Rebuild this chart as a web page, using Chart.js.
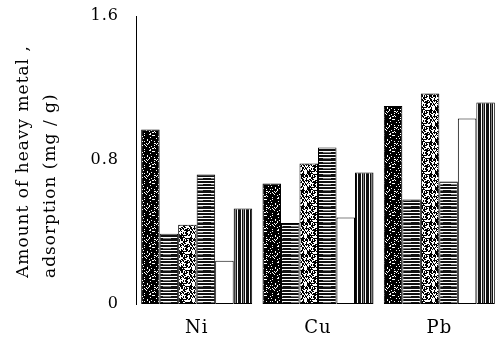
<!DOCTYPE html>
<html>
<head>
<meta charset="utf-8">
<script src="https://cdn.jsdelivr.net/npm/chart.js@4"></script>
<style>
  html, body { margin: 0; padding: 0; background: #fff; }
  #wrap { width: 500px; height: 348px; }
</style>
</head>
<body>
<div id="wrap"><canvas id="myChart"></canvas></div>
<script>
const metals = ['Ni', 'Cu', 'Pb'];
const yTicks = [0, 0.8, 1.6];
const yTitle = ['Amount of heavy metal ,', 'adsorption (mg / g)'];
// six adsorbents per metal (mg/g)
const series1 = [0.97, 0.67, 1.10];
const series2 = [0.39, 0.45, 0.58];
const series3 = [0.44, 0.78, 1.17];
const series4 = [0.72, 0.87, 0.68];
const series5 = [0.24, 0.48, 1.03];
const series6 = [0.53, 0.73, 1.12];

const serif = "'DejaVu Serif', 'Liberation Serif', serif";

/* texturas tipo impresion (solo estilo) */
let seed = 11;
const noise = () => { seed = (seed * 16807) % 2147483647; return seed / 2147483647; };

let makePattern = (kind) => {
    const c = document.createElement('canvas');
    c.width = 16; c.height = 16;
    const g = c.getContext('2d');
    if (kind === 'dark') {
        g.fillStyle = '#000'; g.fillRect(0, 0, 16, 16);
        g.fillStyle = '#fff';
        for (let i = 0; i < 256; i++) if (noise() < 0.16) g.fillRect(i % 16, Math.floor(i / 16), 1, 1);
    } else if (kind === 'light') {
        g.fillStyle = '#fff'; g.fillRect(0, 0, 16, 16);
        g.fillStyle = '#000';
        for (let i = 0; i < 256; i++) if (noise() < 0.5) g.fillRect(i % 16, Math.floor(i / 16), 1, 1);
    } else if (kind === 'hlines') {
        g.fillStyle = '#111'; g.fillRect(0, 0, 16, 16);
        g.fillStyle = '#fff';
        for (let y = 1; y < 16; y += 3) g.fillRect(0, y, 16, 1);
        g.fillStyle = '#777';
        for (let y = 2; y < 16; y += 6) g.fillRect(3, y, 8, 1);
    } else if (kind === 'vlines') {
        g.fillStyle = '#111'; g.fillRect(0, 0, 16, 16);
        g.fillStyle = '#fff';
        for (let x = 1; x < 16; x += 4) g.fillRect(x, 0, 1, 16);
        g.fillStyle = '#888';
        for (let x = 3; x < 16; x += 8) g.fillRect(x, 0, 1, 16);
    } else {
        g.fillStyle = '#fff'; g.fillRect(0, 0, 16, 16);
    }
    return g.createPattern(c, 'repeat');
};

const fills = [makePattern('dark'), makePattern('hlines'), makePattern('light'),
               makePattern('hlines'), makePattern('white'), makePattern('vlines')];
const allSeries = [series1, series2, series3, series4, series5, series6];

/* espaciado de letras + titulo del eje y */
const printLook = {
    id: 'printLook',
    beforeDraw: (chart) => { chart.ctx.letterSpacing = '1px'; },
    afterDraw: (chart) => {
        const c = chart.ctx;
        const base = chart.chartArea.bottom - 26;
        c.save();
        c.font = '17px ' + serif;
        c.letterSpacing = '1px';
        c.fillStyle = '#000';
        c.textAlign = 'left';
        c.textBaseline = 'alphabetic';
        [28, 55].forEach((x, i) => {
            c.save();
            c.translate(x, base);
            c.rotate(-Math.PI / 2);
            c.fillText(yTitle[i], 0, 0);
            c.restore();
        });
        c.restore();
    }
};

const ctx = document.getElementById('myChart');

const dataset = {
    labels: metals,
    datasets: allSeries.map((s, i) => ({
        label: 'S' + (i + 1),
        data: s,
        backgroundColor: fills[i],
        borderColor: '#000',
        borderWidth: 1,
        borderSkipped: false,
        categoryPercentage: 0.915,
        barPercentage: 1.0
    }))
};

const config = {
    type: 'bar',
    data: dataset,
    plugins: [printLook],
    options: {
        responsive: true,
        maintainAspectRatio: false,
        animation: false,
        layout: { padding: { top: 16, right: 0, left: 0, bottom: 0 } },
        plugins: { legend: { display: false }, tooltip: { enabled: false } },
        scales: {
            x: {
                grid: { display: false, drawTicks: false },
                border: { display: false },
                ticks: { color: '#000', font: { family: serif, size: 18 }, padding: 14 },
                afterFit: (s) => { s.height = 44; s.paddingLeft = 0; s.paddingRight = 0; }
            },
            y: {
                min: 0, max: 1.6,
                afterBuildTicks: (s) => { s.ticks = yTicks.map(v => ({ value: v })); },
                grid: { display: false, drawTicks: false },
                border: { display: true, color: '#000', width: 1 },
                ticks: { color: '#000', font: { family: serif, size: 16 }, padding: 17 },
                afterFit: (s) => { s.width = 136; s.paddingTop = 0; s.paddingBottom = 0; }
            }
        }
    }
};

const chart = new Chart(ctx, config);
</script>
</body>
</html>
